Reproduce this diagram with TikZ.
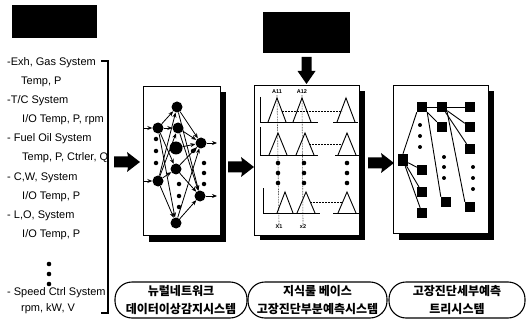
\documentclass[tikz,border=0pt]{standalone}
\usepackage{fontspec}
\setmainfont{Liberation Sans}
\newfontfamily\kr{Noto Sans CJK KR}
\usetikzlibrary{arrows.meta}
\tikzset{
  lbl/.style={anchor=west,inner sep=0pt,font=\fontsize{11}{11}\selectfont,text height=8pt,text depth=2pt},
  panel/.style={draw,line width=0.8pt,fill=white},
  shade/.style={fill=black},
  fatright/.pic={\fill (-13,-5.5) -- (1,-5.5) -- (0,-10) -- (13,0) -- (0,10) -- (1,5.5) -- (-13,5.5) -- cycle;},
  fatdown/.pic={\fill (-5,-14) -- (-5,0) -- (-9,0) -- (0,13) -- (9,0) -- (5,0) -- (5,-14) -- cycle;},
  neuron/.style={circle,fill=black,inner sep=0pt,minimum size=11pt},
  bigneuron/.style={circle,fill=black,inner sep=0pt,minimum size=13pt},
  dotn/.style={circle,fill=black,inner sep=0pt,minimum size=4.5pt},
  syn/.style={line width=0.8pt,-{Stealth[length=5pt,width=4pt]}},
  sq/.style={fill=black,inner sep=0pt,minimum size=10pt},
  branch/.style={line width=0.9pt},
  tri/.style={line width=0.9pt},
  guide/.style={line width=0.6pt,densely dotted},
  axisl/.style={line width=0.8pt},
  pill/.style={draw,line width=1.1pt,rounded corners=17pt},
  krtext/.style={font=\kr\bfseries\fontsize{12}{18}\selectfont,align=center,inner sep=0pt},
  small/.style={font=\bfseries\fontsize{5.5}{5.5}\selectfont,inner sep=0pt},
}
\begin{document}
\begin{tikzpicture}[x=1pt,y=-1pt]
\useasboundingbox (0,0) rectangle (526,320);

% title blocks
\fill (12,5) rectangle (97,38);
\fill (263,12) rectangle (350,53);

% monitored signals
\node[lbl] (s1)  at (7,63)  {-Exh, Gas System};
\node[lbl] (s1b) at (21,82) {Temp, P};
\node[lbl] (s2)  at (7,101) {-T/C System};
\node[lbl] (s2b) at (22,120) {I/O Temp, P, rpm};
\node[lbl] (s3)  at (7,139) {- Fuel Oil System};
\node[lbl] (s3b) at (22,158) {Temp, P, Ctrler, Q};
\node[lbl] (s4)  at (7,177) {- C,W, System};
\node[lbl] (s4b) at (22,196) {I/O Temp, P};
\node[lbl] (s5)  at (7,215) {- L,O, System};
\node[lbl] (s5b) at (22,234) {I/O Temp, P};
\foreach \yy in {264,274,284} \fill (49,\yy) circle (2.3pt);
\node[lbl] (s6)  at (7,292) {- Speed Ctrl System};
\node[lbl] (s6b) at (21,308) {rpm, kW, V};
\draw[line width=1.6pt] (101,61) -- (108,61) -- (108,313) -- (101,313);

% block arrows between stages
\pic (f1) at (127,162) {fatright};
\pic (f2) at (241,167) {fatright};
\pic (f3) at (381,163) {fatright};
\pic (f4) at (306.5,71) {fatdown};

% panel frames with shadows
\fill[shade] (149,92) rectangle (226,242);
\draw[panel] (143,86) rectangle (220,235);
\fill[shade] (260,91) rectangle (365,240);
\draw[panel] (254,85) rectangle (359,235);
\fill[shade] (399,91) rectangle (494,240);
\draw[panel] (393,85) rectangle (488,233);

% --- neural network
\node[neuron] (nA) at (158,128) {};
\node[neuron] (nB) at (158,181) {};
\foreach \yy in {139,151,163} \node[dotn] at (156,\yy) {};
\node[neuron] (h1) at (177,107) {};
\node[neuron] (h2) at (178,128) {};
\node[bigneuron] (h3) at (176,148) {};
\node[neuron] (h4) at (176,169) {};
\node[neuron] (h5) at (176,223) {};
\foreach \yy in {184,196,207} \node[dotn] at (179,\yy) {};
\node[neuron] (o1) at (201,143) {};
\node[neuron] (o2) at (200,196) {};
\node[dotn] at (193,151) {};
\foreach \yy in {163,173,184} \node[dotn] at (204,\yy) {};
\coordinate (inA) at (143,128);
\coordinate (inB) at (143,181);
\coordinate (outA) at (217,143);
\coordinate (outB) at (217,196);
\draw[syn] (inA) -- (nA);
\draw[syn] (inB) -- (nB);
\draw[syn] (o1) -- (outA);
\draw[syn] (o2) -- (outB);
\foreach \s/\t in {nA/h1,nA/h2,nA/h4,nA/h5,nB/h1,nB/h2,nB/h4,nB/h5,
                   h1/o1,h2/o1,h2/o2,h3/o1,h4/o2,h5/o1,h5/o2,h1/o2,h4/o1}
  \draw[syn] (\s) -- (\t);

% --- fuzzy rule base
\node[small] (a11) at (277,92) {A11};
\node[small] (a12) at (302,92) {A12};
\node[small] (x1) at (279,227) {X1};
\node[small] (x2) at (303,227) {x2};
\draw[guide] (a11.south) ++(0,1) -- (x1.north);
\draw[guide] (a12.south) ++(0,1) -- (x2.north);
% row 1
\draw[axisl] (260,97) -- (260,122) -- (318,122);
\draw[axisl] (333,122) -- (358,122);
\draw[tri] (268,122) -- (277,98) -- (286,122);
\draw[tri] (293,122) -- (302,98) -- (311,122);
\draw[tri] (337,122) -- (346,98) -- (355,122);
\draw[guide,dash pattern=on 2pt off 1pt] (282,111) -- (342,111);
% row 2
\draw[axisl] (260,127) -- (260,155) -- (318,155);
\draw[axisl] (335,155) -- (359,155);
\draw[tri] (269,155) -- (278,133) -- (287,155);
\draw[tri] (296,155) -- (305,133) -- (314,155);
\draw[tri] (338,155) -- (347,133) -- (356,155);
\draw[guide,dash pattern=on 2pt off 1pt] (309,144) -- (342,144);
% ellipsis dots
\foreach \xx in {278,304,347} \foreach \yy in {163,173,183} \fill (\xx,\yy) circle (2.3pt);
% row 3
\draw[axisl] (263,188) -- (263,213) -- (320,213);
\draw[axisl] (333,213) -- (359,213);
\draw[tri] (277,213) -- (285,192) -- (293,213);
\draw[tri] (297,213) -- (306,192) -- (315,213);
\draw[tri] (338,213) -- (347,192) -- (356,213);
\draw[guide,dash pattern=on 2pt off 1pt] (310,202) -- (342,202);

% --- decision tree
\node[sq,minimum height=12pt] (r) at (403,160) {};
\node[sq] (c1a) at (422,107) {};
\node[sq] (c1b) at (422,170) {};
\node[sq] (c1c) at (422,192) {};
\node[sq] (c1d) at (422,213) {};
\node[sq] (c2a) at (442,107) {};
\node[sq] (c2b) at (442,127) {};
\node[sq] (c2c) at (446,202) {};
\node[sq] (c3a) at (470,107) {};
\node[sq] (c3b) at (470,127) {};
\node[sq] (c3c) at (470,149) {};
\node[sq] (c3d) at (470,207) {};
\foreach \yy in {125,136,147} \fill (420,\yy) circle (2pt);
\foreach \yy in {157,167,178} \fill (444,\yy) circle (2pt);
\foreach \yy in {167,178,189} \fill (473,\yy) circle (2pt);
\draw[branch] (r.north) -- (c1a.south west);
\draw[branch] (r) -- (c1b);
\draw[branch] (r) -- (c1c);
\draw[branch] (r) -- (c1d);
\draw[branch] (c1a) -- (c2a);
\draw[branch] (c1a) -- (c2b);
\draw[branch] (c1a.south east) -- (c2c.north west);
\draw[branch] (c2a) -- (c3a);
\draw[branch] (c2a) -- (c3b);
\draw[branch] (c2a) -- (c3c);
\draw[branch] (c2a.south east) -- (c3d.north west);

% stage captions
\draw[pill] (115,282) rectangle (247,318);
\node[krtext] (t1) at (181,300) {뉴럴네트워크\\데이터이상감지시스템};
\draw[pill] (248,282) rectangle (387,318);
\node[krtext] (t2) at (317.5,300) {지식룰 베이스\\고장진단부분예측시스템};
\draw[pill] (389,282) rectangle (525,318);
\node[krtext] (t3) at (457,300) {고장진단세부예측\\트리시스템};
\end{tikzpicture}
\end{document}
